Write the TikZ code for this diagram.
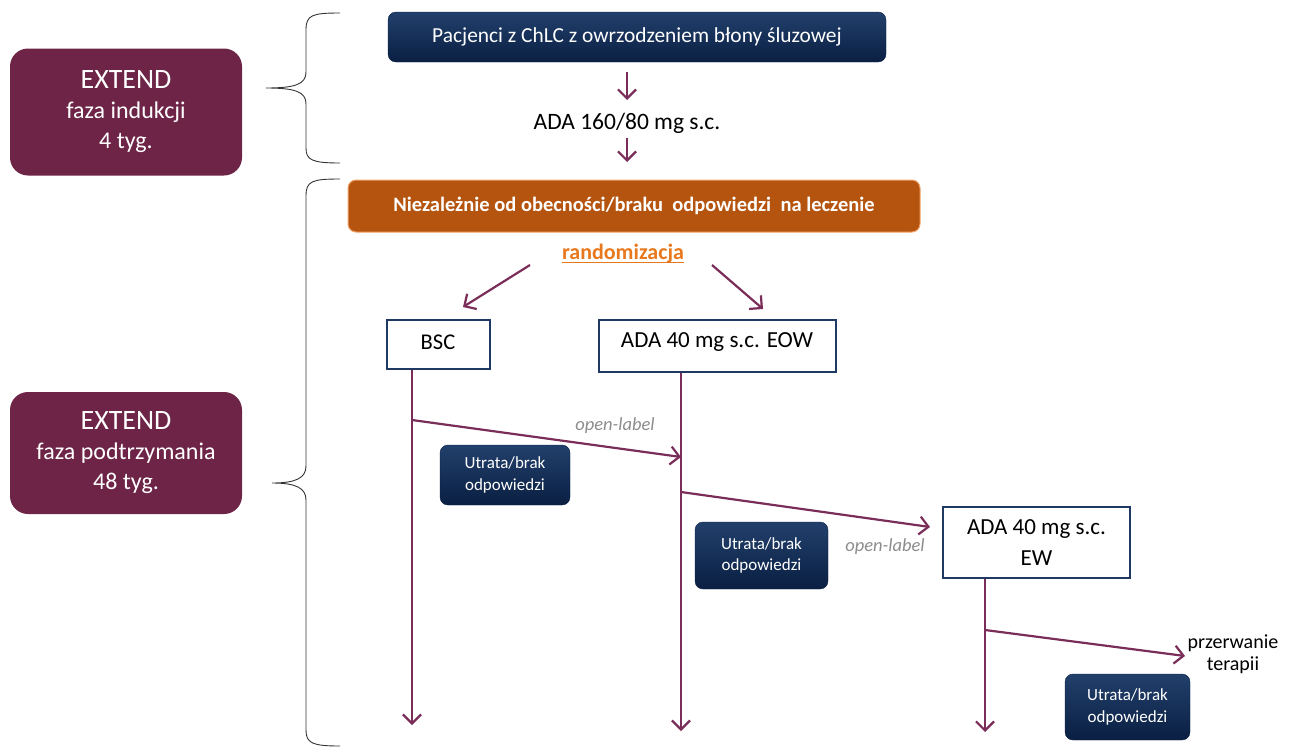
\documentclass[tikz,border=0pt]{standalone}
\usepackage{fontspec}
\setmainfont{Carlito}
\usetikzlibrary{arrows.meta,calc}
\definecolor{navyA}{HTML}{22406C}
\definecolor{navyB}{HTML}{0A1F42}
\definecolor{navyline}{HTML}{1F3864}
\definecolor{plum}{HTML}{6D2447}
\definecolor{wine}{HTML}{7A2D58}
\definecolor{rust}{HTML}{B5540F}
\definecolor{rustedge}{HTML}{F2A46A}
\definecolor{tangerine}{HTML}{E8781E}
\definecolor{note}{HTML}{8C8C8C}
% font size with a given leading factor: \fsl{factor}{size}
\newcommand{\fsl}[2]{\fontsize{#2pt}{#1\dimexpr #2pt\relax}\selectfont}
\newcommand{\fs}[1]{\fsl{1.2}{#1}}
\tikzset{
  x=1pt, y=-1pt,
  navybox/.style={rounded corners=8pt, top color=navyA, bottom color=navyB,
    draw=navyB, text=white, align=center, inner sep=0pt},
  lossbox/.style={navybox, font=\fsl{1.25}{17}},
  phasebox/.style={rounded corners=18pt, fill=plum, text=white, align=center,
    inner sep=0pt, minimum width=232pt, font=\fsl{1.25}{24}},
  armbox/.style={draw=navyline, line width=1.4pt, fill=white, inner sep=0pt},
  flow/.style={draw=wine, line width=2.2pt,
    -{Straight Barb[length=9pt, width=18pt, line width=2.2pt]}},
  brace/.style={draw=black!80, line width=0.9pt},
  tag/.style={text=note, font=\itshape\fs{18.5}},
}
\begin{document}
\begin{tikzpicture}
\useasboundingbox (0,0) rectangle (1293,747);

% phase labels on the left
\node[phasebox, minimum height=127pt] (ph1) at (126,112)
  {{\fs{28}EXTEND}\\faza indukcji\\4 tyg.};
\node[phasebox, minimum height=122pt] (ph2) at (126,453)
  {{\fs{28}EXTEND}\\faza podtrzymania\\48 tyg.};

% curly braces
\draw[brace] (340,13) .. controls (312,13) and (306,15) .. (306,30)
  -- (306,72) .. controls (306,84) and (296,88) .. (266,88)
  .. controls (296,88) and (306,92) .. (306,104)
  -- (306,148) .. controls (306,160) and (312,163) .. (340,163);
\draw[brace] (340,179) .. controls (312,179) and (306,181) .. (306,196)
  -- (306,466) .. controls (306,478) and (296,483) .. (272,483)
  .. controls (296,483) and (306,488) .. (306,500)
  -- (306,730) .. controls (306,743) and (312,746) .. (340,746);

% induction phase
\node[navybox, minimum width=498pt, minimum height=50pt] (pat) at (637,37)
  {\fs{21.4}Pacjenci z ChLC z owrzodzeniem błony śluzowej};
\node (ind) at (627,123) {\fs{23.5}ADA 160/80 mg s.c.};
\coordinate (a1) at (627,72);
\coordinate (a2) at (627,100);
\coordinate (a3) at (627,138);
\coordinate (a4) at (627,162);
\draw[flow] (a1) -- (a2);
\draw[flow] (a3) -- (a4);

% maintenance phase
\node[rounded corners=8pt, fill=rust, draw=rustedge, line width=1pt,
  text=white, minimum width=572pt, minimum height=52pt, inner sep=0pt]
  (any) at (634,206)
  {\fs{20.5}\bfseries Niezależnie od obecności/braku\ \ odpowiedzi\ \ na leczenie};
\node[text=tangerine, inner sep=0pt, anchor=base] (rand) at (623,259)
  {\fs{22}\bfseries randomizacja};
\draw[tangerine, line width=1.6pt]
  ([yshift=-3.5pt]rand.base west) -- ([yshift=-3.5pt]rand.base east);
\coordinate (r1) at (530,265);
\coordinate (r2) at (463,307);
\coordinate (r3) at (712,265);
\coordinate (r4) at (763,309);
\draw[flow] (r1) -- (r2);
\draw[flow] (r3) -- (r4);

\node[armbox, minimum width=103pt, minimum height=49pt] (bsc) at (438.5,344.5) {};
\node (bsct) at (438,342) {\fs{22.5}BSC};
\node[armbox, minimum width=237pt, minimum height=52pt] (eow) at (717.5,346) {};
\node (eowt) at (717,342) {\fs{23}ADA 40 mg s.c. EOW};
\node[armbox, minimum width=187pt, minimum height=71pt, align=center,
  font=\fsl{1.32}{23}] (ew) at (1036.5,542.5) {ADA 40 mg s.c.\\EW};

% vertical courses of the arms
\coordinate (bscEnd) at (412,725);
\coordinate (eowEnd) at (681,731);
\coordinate (ewEnd) at (985,732);
\draw[flow] (bsc.south -| bscEnd) -- (bscEnd);
\draw[flow] (eow.south -| eowEnd) -- (eowEnd);
\draw[flow] (ew.south -| ewEnd) -- (ewEnd);

% switching on loss of response
\coordinate (s1) at (412,420);
\coordinate (t1) at (681,457);
\coordinate (s2) at (681,492);
\coordinate (t2) at (930,527);
\coordinate (s3) at (985,630);
\coordinate (t3) at (1185,656);
\draw[flow] (s1) -- (t1);
\draw[flow] (s2) -- (t2);
\draw[flow] (s3) -- (t3);

\node[tag] (ol1) at (615,426) {open-label};
\node[tag] (ol2) at (885,547) {open-label};
\node[align=center, inner sep=0pt, font=\fsl{1.1}{20}] (stop) at (1233,654)
  {przerwanie\\terapii};

\node[lossbox, minimum width=130pt, minimum height=60pt] (loss1) at (505,475)
  {Utrata/brak\\odpowiedzi};
\node[lossbox, minimum width=133pt, minimum height=67pt] (loss2) at (761.5,555.5)
  {Utrata/brak\\odpowiedzi};
\node[lossbox, minimum width=125pt, minimum height=66pt] (loss3) at (1127.5,707)
  {Utrata/brak\\odpowiedzi};
\end{tikzpicture}
\end{document}
